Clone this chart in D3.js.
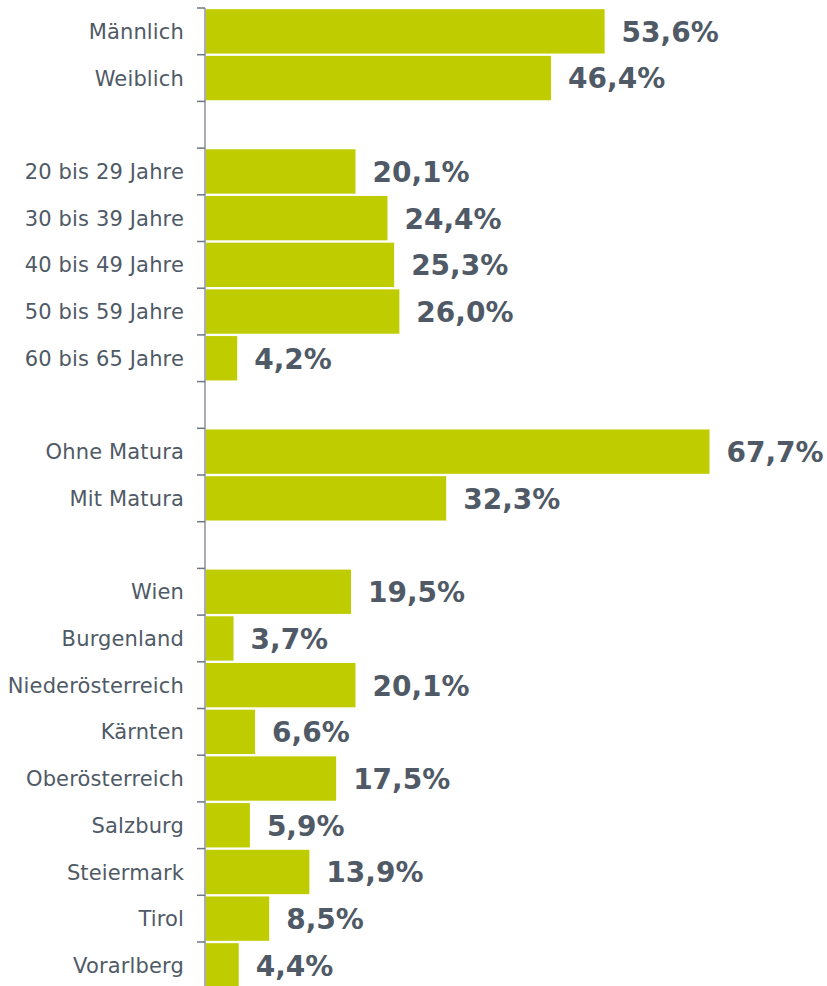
<!DOCTYPE html>
<html>
<head>
<meta charset="utf-8">
<script src="https://cdn.jsdelivr.net/npm/d3@7"></script>
<style>
  body { margin: 0; background: #fff; }
  text { font-family: "DejaVu Sans", Verdana, sans-serif; }
</style>
</head>
<body>
<div id="main"></div>
<script>
// ---------------- data -----------------//

// empty strings are the spacer rows between groups
let categories = [
  'Männlich', 'Weiblich', '',
  '20 bis 29 Jahre', '30 bis 39 Jahre', '40 bis 49 Jahre', '50 bis 59 Jahre', '60 bis 65 Jahre', ' ',
  'Ohne Matura', 'Mit Matura', '  ',
  'Wien', 'Burgenland', 'Niederösterreich', 'Kärnten', 'Oberösterreich',
  'Salzburg', 'Steiermark', 'Tirol', 'Vorarlberg'
]

let values = [
  53.6, 46.4, null,
  20.1, 24.4, 25.3, 26.0, 4.2, null,
  67.7, 32.3, null,
  19.5, 3.7, 20.1, 6.6, 17.5, 5.9, 13.9, 8.5, 4.4
]

let rows = categories.map((c, i) => ({key: c, value: values[i]}));

// ---------------- formatting vars -----------------//

let width = 827;
let height = 986;
let axisX = 205;
let plotTop = 8;
let step = 46.7;

let svg = d3.select("#main")
  .append("svg")
  .attr("width", width)
  .attr("height", height)

let y = d3.scaleBand()
  .domain(categories)
  .range([plotTop, plotTop + step * categories.length])
  .paddingInner(0.05)
  .paddingOuter(0.025)

let x = d3.scaleLinear()
  .domain([0, 100])
  .range([axisX + 1, axisX + 1 + 743.7])

// bars
svg.selectAll(".bar")
  .data(rows.filter(d => d.value !== null))
  .enter()
  .append("rect")
  .attr("class", "bar")
  .attr("x", x(0))
  .attr("y", d => y(d.key))
  .attr("width", d => x(d.value) - x(0))
  .attr("height", y.bandwidth())
  .attr("fill", "#bfcd00")

// value labels
svg.selectAll(".val")
  .data(rows.filter(d => d.value !== null))
  .enter()
  .append("text")
  .attr("class", "val")
  .attr("x", d => x(d.value) + 17)
  .attr("y", d => y(d.key) + y.bandwidth() / 2)
  .attr("dy", "0.37em")
  .attr("font-size", 28)
  .attr("font-weight", "bold")
  .attr("fill", "#4f5a66")
  .text(d => d3.format(".1f")(d.value).replace(".", ",") + "%")

// category labels
svg.selectAll(".cat")
  .data(rows.filter(d => d.value !== null))
  .enter()
  .append("text")
  .attr("class", "cat")
  .attr("x", axisX - 21)
  .attr("y", d => y(d.key) + y.bandwidth() / 2)
  .attr("dy", "0.36em")
  .attr("text-anchor", "end")
  .attr("font-size", 21)
  .attr("letter-spacing", 0.15)
  .attr("fill", "#4f5a66")
  .text(d => d.key)

// axis line and ticks at band boundaries
let boundaries = categories.map(c => y(c) - y.step() * y.paddingInner() / 2);
boundaries.push(y.range()[1]);

svg.append("line")
  .attr("x1", axisX).attr("x2", axisX)
  .attr("y1", plotTop).attr("y2", height)
  .attr("stroke", "#8c9199")
  .attr("stroke-width", 1.5)

svg.selectAll(".tick")
  .data(boundaries)
  .enter()
  .append("line")
  .attr("class", "tick")
  .attr("x1", axisX - 8).attr("x2", axisX)
  .attr("y1", d => d).attr("y2", d => d)
  .attr("stroke", "#6f7782")
  .attr("stroke-width", 1.5)
</script>
</body>
</html>
